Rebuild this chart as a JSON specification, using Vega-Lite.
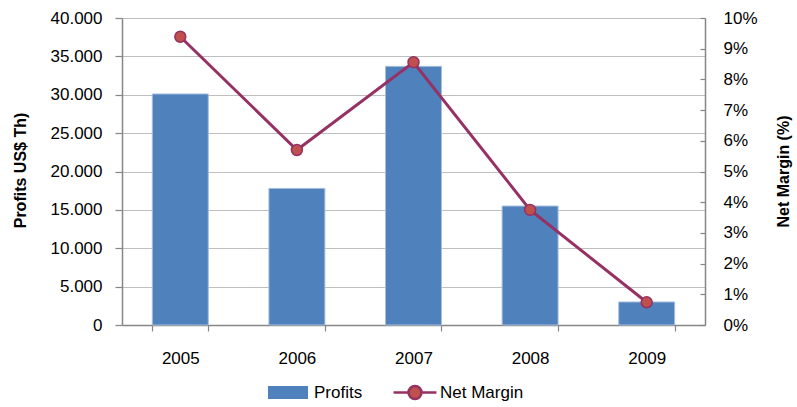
{
  "$schema": "https://vega.github.io/schema/vega-lite/v6.json",
  "width": 583,
  "height": 307,
  "autosize": {"type": "none"},
  "padding": {"left": 122, "top": 18, "right": 92, "bottom": 82},
  "background": "white",
  "config": {
    "view": {"stroke": null},
    "font": "Liberation Sans",
    "axis": {
      "labelFont": "Liberation Sans",
      "labelFontSize": 17,
      "labelColor": "#000000",
      "titleFont": "Liberation Sans",
      "titleFontSize": 16,
      "titleFontWeight": "bold",
      "titleColor": "#000000",
      "domainColor": "#868686",
      "domainWidth": 1.5,
      "tickColor": "#868686",
      "tickWidth": 1.2
    },
    "legend": {
      "labelFont": "Liberation Sans",
      "labelFontSize": 17,
      "labelColor": "#000000"
    }
  },
  "data": {
    "values": [
      {"year": "2005", "profits": 30100, "margin": 0.0939},
      {"year": "2006", "profits": 17800, "margin": 0.057},
      {"year": "2007", "profits": 33700, "margin": 0.0856},
      {"year": "2008", "profits": 15500, "margin": 0.0375},
      {"year": "2009", "profits": 3000, "margin": 0.0074}
    ]
  },
  "encoding": {
    "x": {
      "field": "year",
      "type": "ordinal",
      "scale": {"paddingInner": 0.52, "paddingOuter": 0.26},
      "axis": {
        "title": null,
        "labelAngle": 0,
        "tickBand": "extent",
        "tickSize": 6,
        "labelPadding": 19,
        "grid": false
      }
    }
  },
  "layer": [
    {
      "mark": {"type": "bar", "stroke": "#A7BEDC", "strokeWidth": 1},
      "encoding": {
        "y": {
          "field": "profits",
          "type": "quantitative",
          "scale": {"domain": [0, 40000], "nice": false},
          "axis": {
            "title": "Profits US$ Th)",
            "orient": "left",
            "values": [0, 5000, 10000, 15000, 20000, 25000, 30000, 35000, 40000],
            "labelExpr": "replace(format(datum.value, ','), ',', '.')",
            "grid": true,
            "gridColor": "#BFBFBF",
            "gridWidth": 1.2,
            "tickSize": 7,
            "labelPadding": 13,
            "titleX": -102,
            "titleY": 152,
            "titleAngle": -90,
            "titleAlign": "center",
            "titleBaseline": "middle"
          }
        },
        "fill": {
          "datum": "Profits",
          "scale": {"domain": ["Profits"], "range": ["#4F81BD"]},
          "legend": {
            "title": null,
            "orient": "none",
            "legendX": 157.5,
            "legendY": 366,
            "symbolType": "M-3.08,-1H3.08V1H-3.08Z",
            "symbolSize": 169,
            "symbolStrokeWidth": 0,
            "labelOffset": 17.5
          }
        }
      }
    },
    {
      "encoding": {
        "y": {
          "field": "margin",
          "type": "quantitative",
          "scale": {"domain": [0, 0.1], "nice": false},
          "axis": {
            "title": "Net Margin (%)",
            "orient": "right",
            "values": [0, 0.01, 0.02, 0.03, 0.04, 0.05, 0.06, 0.07, 0.08, 0.09, 0.1],
            "format": ".0%",
            "grid": false,
            "tickSize": -5,
            "labelPadding": 23,
            "titleX": 78,
            "titleY": 153,
            "titleAngle": -90,
            "titleAlign": "center",
            "titleBaseline": "middle"
          }
        }
      },
      "layer": [
        {
          "mark": {"type": "line", "color": "#953163", "strokeWidth": 3}
        },
        {
          "mark": {"type": "point", "filled": true, "fill": "#C0504D", "strokeWidth": 1.5, "size": 120, "opacity": 1, "shape": "circle"},
          "encoding": {
            "stroke": {
              "datum": "Net Margin",
              "scale": {"domain": ["Net Margin"], "range": ["#953163"]},
              "legend": {
                "title": null,
                "orient": "none",
                "legendX": 284.5,
                "legendY": 366,
                "symbolType": "M-3.3,0H-1M1,0H3.3M1,0A1,1 0 1,1 -1,0A1,1 0 1,1 1,0Z",
                "symbolSize": 169,
                "symbolStrokeWidth": 2.5,
                "symbolFillColor": "#C0504D",
                "labelOffset": 16.5,
                "encode": {"symbols": {"update": {"fill": {"value": "#C0504D"}, "stroke": {"value": "#953163"}, "opacity": {"value": 1}}}}
              }
            }
          }
        }
      ]
    }
  ],
  "resolve": {"scale": {"y": "independent"}}
}
